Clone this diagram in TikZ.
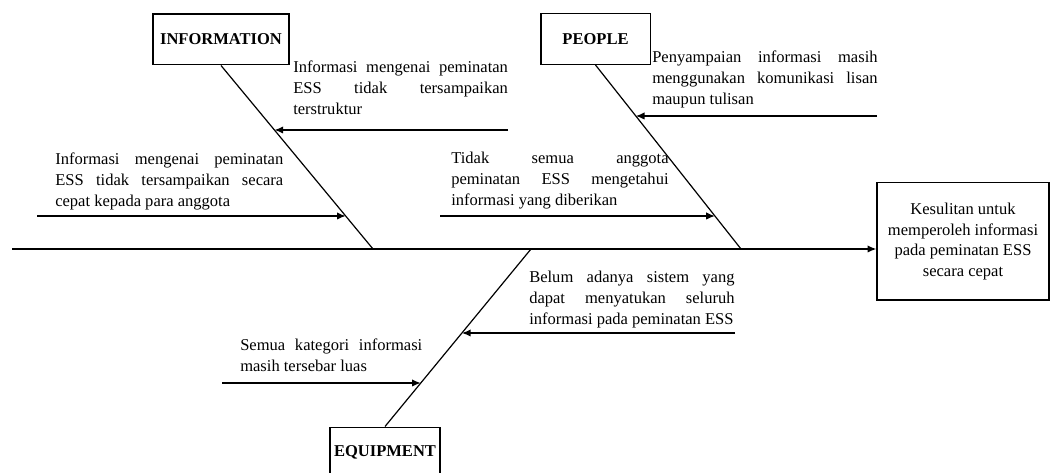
\documentclass[tikz,border=0pt]{standalone}
\usepackage{fontspec}
\setmainfont{Liberation Serif}
\usetikzlibrary{arrows.meta,calc,positioning}
\hyphenpenalty=10000
\tolerance=10000

\begin{document}
\begin{tikzpicture}[x=0.75pt,y=-0.75pt,
  kategorie/.style={draw,line width=1pt,minimum width=#1,minimum height=38pt,inner sep=0pt,font=\fontsize{12.4}{15.4}\selectfont\bfseries},
  ursache/.style={anchor=base west,inner sep=0pt,text width=#1,align=justify,font=\fontsize{12.4}{15.4}\selectfont},
  pfeil/.style={line width=1pt,-{Latex[length=6.5pt,width=5.5pt]}},
  linie/.style={line width=0.9pt}]
\useasboundingbox (0,0) rectangle (1052,473);
\clip (0,0) rectangle (1052,473);
%Kopf und Kategorien
\node[draw,line width=1pt,minimum width=129pt,minimum height=88pt,align=center,font=\fontsize{12.4}{15.4}\selectfont] (masalah) at (963,241.5) {Kesulitan untuk\\memperoleh informasi\\pada peminatan ESS\\secara cepat};
\node[kategorie=102pt] (information) at (221,39.5) {INFORMATION};
\node[kategorie=82pt] (people) at (595.5,39) {PEOPLE};
\node[kategorie=82.5pt] (equipment) at (385,452.5) {EQUIPMENT};
%Hauptgraete
\coordinate (schwanz) at (12,249);
\draw[pfeil] (schwanz) -- (masalah.west |- schwanz);
\coordinate (infoS) at (373,249);
\coordinate (peopleS) at (741,249);
\coordinate (equipS) at (531,249);
\draw[linie] (information.south) -- (infoS);
\draw[linie] (people.south) -- (peopleS);
\draw[linie] (equipS) -- (equipment.north);
%Ursachenpfeile, Spitze jeweils auf der Graete (gleiche Hoehe wie das Ende)
\foreach \nr/\xa/\ya/\von/\nach in {a/508/130/information.south/infoS,b/37/216/information.south/infoS,c/877/116/people.south/peopleS,d/440/216/people.south/peopleS,e/735/333/equipS/equipment.north,f/222/383/equipS/equipment.north}{
  \coordinate (ende\nr) at (\xa,\ya);
  \draw[pfeil] let \p1=(\von), \p2=(\nach), \p3=(ende\nr) in (ende\nr) -- ({\x1+(\x2-\x1)*(\y3-\y1)/(\y2-\y1)},\y3);
}
%Texte
\node[ursache=161pt] (textA) at (293,73) {Informasi mengenai peminatan\linebreak ESS tidak tersampaikan\linebreak terstruktur};
\node[ursache=171pt] (textB) at (55,165) {Informasi mengenai peminatan\linebreak ESS tidak tersampaikan secara\linebreak cepat kepada para anggota};
\node[ursache=169pt] (textC) at (652,63) {Penyampaian informasi masih\linebreak menggunakan komunikasi lisan\linebreak maupun tulisan};
\node[ursache=163pt] (textD) at (451,164) {Tidak semua anggota\linebreak peminatan ESS mengetahui\linebreak informasi yang diberikan};
\node[ursache=154pt] (textE) at (529,283) {Belum adanya sistem yang\linebreak dapat menyatukan seluruh\linebreak informasi pada peminatan ESS};
\node[ursache=136.5pt] (textF) at (240,351) {Semua kategori informasi\linebreak masih tersebar luas};
\end{tikzpicture}
\end{document}
